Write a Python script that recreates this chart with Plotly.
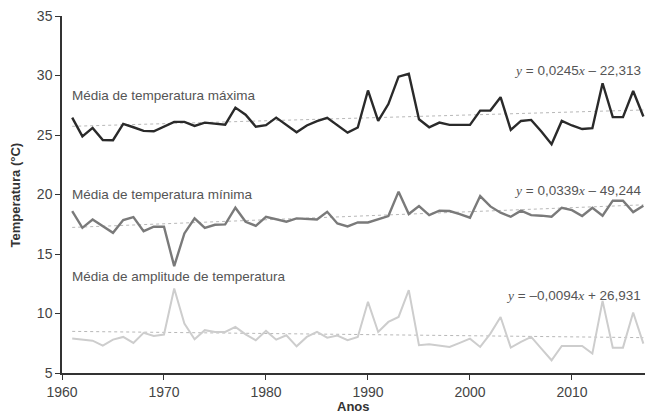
import plotly.graph_objects as go

years = list(range(1961, 2018))

temp_max = [26.46, 24.89, 25.60, 24.58, 24.56, 25.93, 25.65, 25.35, 25.31, 25.70,
            26.10, 26.10, 25.76, 26.04, 25.98, 25.87, 27.30, 26.70, 25.70, 25.83,
            26.46, 25.85, 25.23, 25.80, 26.16, 26.44, 25.80, 25.20, 25.63, 28.74,
            26.18, 27.60, 29.90, 30.14, 26.32, 25.65, 26.04, 25.85, 25.85, 25.85,
            27.05, 27.05, 28.18, 25.43, 26.18, 26.27, 25.30, 24.22, 26.18, 25.80,
            25.50, 25.57, 29.35, 26.50, 26.50, 28.70, 26.55]

temp_min = [18.61, 17.20, 17.90, 17.35, 16.78, 17.85, 18.10, 16.92, 17.29, 17.29,
            13.98, 16.73, 17.99, 17.20, 17.46, 17.49, 18.89, 17.71, 17.37, 18.13,
            17.90, 17.71, 17.99, 17.93, 17.90, 18.55, 17.57, 17.32, 17.65, 17.65,
            17.93, 18.19, 20.24, 18.36, 19.03, 18.27, 18.64, 18.61, 18.36, 18.05,
            19.87, 19.00, 18.47, 18.13, 18.64, 18.27, 18.22, 18.13, 18.89, 18.69,
            18.19, 18.89, 18.22, 19.48, 19.48, 18.52, 19.06]

temp_amp = [7.89, 7.81, 7.72, 7.30, 7.81, 8.03, 7.53, 8.37, 8.11, 8.23,
            12.10, 9.15, 7.83, 8.60, 8.45, 8.45, 8.87, 8.25, 7.75, 8.54,
            7.80, 8.17, 7.24, 8.03, 8.45, 7.97, 8.14, 7.75, 8.03, 10.98,
            8.45, 9.29, 9.71, 11.96, 7.33, 7.41, 7.33, 7.19, 7.53, 7.89,
            7.19, 8.31, 9.71, 7.13, 7.61, 8.03, 7.05, 6.07, 7.27, 7.24,
            7.27, 6.63, 11.06, 7.13, 7.13, 10.08, 7.47]

trend_slopes = [0.0245, 0.0339, -0.0094]
trend_intercepts = [-22.313, -49.244, 26.931]
trend_labels = ["y = 0,0245x – 22,313", "y = 0,0339x – 49,244", "y = –0,0094x + 26,931"]
series_labels = ["Média de temperatura máxima", "Média de temperatura mínima",
                 "Média de amplitude de temperatura"]
x_ticks = [1960, 1970, 1980, 1990, 2000, 2010]
y_ticks = [5, 10, 15, 20, 25, 30, 35]

FONT = "Liberation Sans, Arial, sans-serif"
SERIF = "Liberation Serif, Times New Roman, serif"

colors = ["#2a2a2a", "#7a7a7a", "#cdcdcd"]
widths = [2.4, 2.4, 2.0]

fig = go.Figure()

# trend lines (drawn first, underneath)
x_end = [years[0], years[-1]]
for m, b in zip(trend_slopes, trend_intercepts):
    fig.add_trace(go.Scatter(x=x_end, y=[m * xx + b for xx in x_end], mode="lines",
                             line=dict(color="#b8b8b8", width=1, dash="dot"),
                             hoverinfo="skip", showlegend=False))

for ys, c, w in zip([temp_max, temp_min, temp_amp], colors, widths):
    fig.add_trace(go.Scatter(x=years, y=ys, mode="lines",
                             line=dict(color=c, width=w), showlegend=False))

def eq_html(s):
    s = s.replace("y =", '<span style="font-family:%s"><i>y</i></span> =' % SERIF, 1)
    s = s.replace("x ", '<span style="font-family:%s"><i>x</i></span> ' % SERIF, 1)
    return s

label_pos = [(1960.75, 28.34), (1960.75, 20.02), (1960.75, 13.13)]
eq_pos = [(2016.93, 30.44), (2016.93, 20.35), (2016.93, 11.53)]

annotations = []
for txt, (xx, yy) in zip(series_labels, label_pos):
    annotations.append(dict(x=xx, y=yy, xref="x", yref="y", text=txt, showarrow=False,
                            xanchor="left", yanchor="middle",
                            font=dict(family=FONT, size=13.5, color="#555555")))
for txt, (xx, yy) in zip(trend_labels, eq_pos):
    annotations.append(dict(x=xx, y=yy, xref="x", yref="y", text=eq_html(txt), showarrow=False,
                            xanchor="right", yanchor="middle",
                            font=dict(family=FONT, size=13.5, color="#555555")))

annotations.append(dict(x=0.5, y=-0.095, xref="paper", yref="paper", text="<b>Anos</b>",
                        showarrow=False, xanchor="center", yanchor="middle",
                        font=dict(family=FONT, size=13, color="#333333")))
annotations.append(dict(x=-0.079, y=0.5, xref="paper", yref="paper", text="<b>Temperatura (°C)</b>",
                        showarrow=False, textangle=-90, xanchor="center", yanchor="middle",
                        font=dict(family=FONT, size=13, color="#333333")))

fig.update_layout(
    width=646, height=416,
    margin=dict(l=62, r=1, t=16, b=43),
    paper_bgcolor="white", plot_bgcolor="white",
    annotations=annotations,
    xaxis=dict(range=[1960, 2017.16], tickvals=x_ticks, ticks="outside", ticklen=5,
               tickcolor="#333333", tickwidth=1.2, showline=True, linecolor="#333333",
               linewidth=1.5, showgrid=False, zeroline=False,
               tickfont=dict(family=FONT, size=14, color="#444444")),
    yaxis=dict(range=[5, 35], tickvals=y_ticks, ticks="outside", ticklen=5,
               tickcolor="#333333", tickwidth=1.2, showline=True, linecolor="#333333",
               linewidth=1.5, showgrid=False, zeroline=False,
               tickfont=dict(family=FONT, size=14, color="#444444")),
)

fig.write_html("out.html", config={"displayModeBar": False},
               post_script="document.body.style.margin='0';document.body.style.overflow='hidden';")
